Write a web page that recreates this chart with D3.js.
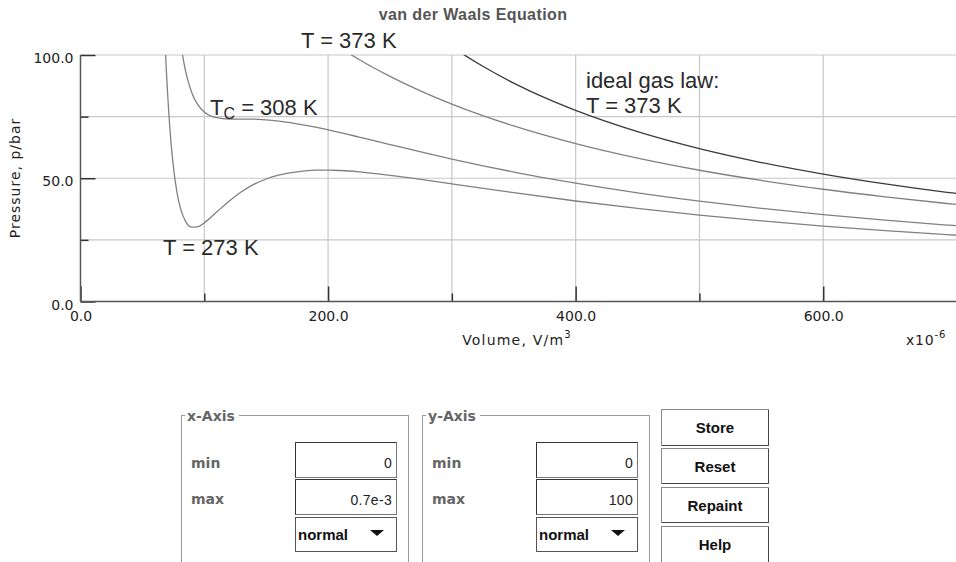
<!DOCTYPE html>
<html><head><meta charset="utf-8">
<script src="https://cdn.jsdelivr.net/npm/d3@7"></script>
<style>
body{margin:0;background:#fff;}
svg{display:block;}
</style></head>
<body>
<svg id="c" width="956" height="562"></svg>
<script>
// ---- data (volume in 1e-6 m^3, pressure in bar) ----
const volumes273 = [66,67,68,69,70,71,72,73,75,78,81,85,90,95,100,110,120,130,140,150,160,175,190,200,210,225,250,275,300,350,400,450,500,550,600,650,700,710];
const pressure273 = [137.3,122.0,108.9,97.4,87.6,79.1,71.7,65.2,54.9,44.1,37.4,32.4,30.15,30.4,31.9,36.3,40.7,44.5,47.5,49.7,51.25,52.6,53.26,53.26,53.14,52.6,51.2,49.56,47.76,44.14,40.77,37.74,35.07,32.71,30.6,28.76,27.1,26.8];
const volumesTc = [78,81,83,85,88,90,92,95,100,105,110,120,130,140,150,160,175,190,200,210,225,250,275,300,350,400,450,500,550,600,650,700,710];
const pressureTc = [117.1,104.6,98.3,93.3,87.57,84.6,82.26,79.7,76.9,75.3,74.6,74.04,74.0,73.98,73.7,73.2,72.1,70.75,69.65,68.55,66.72,63.67,60.66,57.78,52.53,47.98,44.07,40.71,37.79,35.24,33.0,31.02,30.65];
const volumes373 = [200,210,225,250,275,300,350,400,450,500,550,600,650,700,710];
const pressure373 = [106.1,102.83,98.18,91.33,85.35,80.07,71.2,64.03,58.15,53.25,49.1,45.53,42.45,39.75,39.25];
const volumesIdeal = [300,310,325,350,375,400,450,500,550,600,650,700,710];
const pressureIdeal = [103.37,100.04,95.42,88.60,82.70,77.53,68.91,62.02,56.38,51.69,47.71,44.30,43.68];

const xMajorTicks = [0,200,400,600];
const xMinorTicks = [100,300,500];
const yMajorTicks = [0,50,100];
const yMinorTicks = [25,75];
const xGrid = [100,200,300,400,500,600];
const yGrid = [25,50,75,100];
const xTickLabels = ["0.0","200.0","400.0","600.0"];
const yTickLabels = ["0.0","50.0","100.0"];

const title = "van der Waals Equation";
const xLabel = "Volume, V/m";
const yLabel = "Pressure, p/bar";

// ---- layout ----
const svg = d3.select("#c");
const L = 80.5, R = 947, T = 55, B = 301.5, RIGHT_EDGE = 956;
const x = d3.scaleLinear().domain([0,700]).range([L,R]);
const y = d3.scaleLinear().domain([0,100]).range([B,T]);

svg.append("rect").attr("width",956).attr("height",562).attr("fill","#fff");

// grid
const g = svg.append("g");
g.selectAll(".vg").data(xGrid).enter().append("line")
  .attr("x1",d=>x(d)).attr("x2",d=>x(d)).attr("y1",y(100)).attr("y2",y(0))
  .attr("stroke","#c8c8c8").attr("stroke-width",1.2);
g.selectAll(".hg").data(yGrid).enter().append("line")
  .attr("x1",x(0)).attr("x2",RIGHT_EDGE).attr("y1",d=>y(d)).attr("y2",d=>y(d))
  .attr("stroke","#c8c8c8").attr("stroke-width",1.2);

// clip
svg.append("clipPath").attr("id","clip").append("rect")
  .attr("x",x(0)).attr("y",y(100)).attr("width",RIGHT_EDGE-x(0)).attr("height",y(0)-y(100));

const line = d3.line().x(d=>x(d[0])).y(d=>y(d[1])).curve(d3.curveMonotoneX);
const series = [
  {v:volumes273,p:pressure273,c:"#808080"},
  {v:volumesTc,p:pressureTc,c:"#808080"},
  {v:volumes373,p:pressure373,c:"#808080"},
  {v:volumesIdeal,p:pressureIdeal,c:"#3a3a3a"}
];
const cg = svg.append("g").attr("clip-path","url(#clip)");
series.forEach(s=>{
  cg.append("path").datum(d3.zip(s.v,s.p)).attr("d",line)
    .attr("fill","none").attr("stroke",s.c).attr("stroke-width",1.3);
});

// axes (ticks inward)
const xAxis = svg.append("g").attr("transform",`translate(0,${y(0)})`)
  .call(d3.axisBottom(x).tickValues(xMajorTicks).tickSize(-15).tickPadding(9)
        .tickFormat((d,i)=>xTickLabels[i]));
const xAxisMinor = svg.append("g").attr("transform",`translate(0,${y(0)})`)
  .call(d3.axisBottom(x).tickValues(xMinorTicks).tickSize(-8).tickFormat(""));
const yAxis = svg.append("g").attr("transform",`translate(${x(0)},0)`)
  .call(d3.axisLeft(y).tickValues(yMajorTicks).tickSize(-15).tickPadding(7)
        .tickFormat((d,i)=>yTickLabels[i]));
const yAxisMinor = svg.append("g").attr("transform",`translate(${x(0)},0)`)
  .call(d3.axisLeft(y).tickValues(yMinorTicks).tickSize(-8).tickFormat(""));
[xAxis,xAxisMinor,yAxis,yAxisMinor].forEach(a=>{
  a.select(".domain").remove();
  a.selectAll(".tick line").attr("stroke","#333").attr("stroke-width",1.5);
  a.selectAll("text").attr("font-family","DejaVu Sans").attr("font-size",14).attr("fill","#222");
});
yAxis.selectAll("text").attr("dy","0.55em");
xAxis.selectAll("text").attr("dy","0.75em");
// axis lines
svg.append("line").attr("x1",x(0)).attr("x2",x(0)).attr("y1",y(100)).attr("y2",y(0))
  .attr("stroke","#555").attr("stroke-width",1.5);
svg.append("line").attr("x1",x(0)).attr("x2",RIGHT_EDGE).attr("y1",y(0)).attr("y2",y(0))
  .attr("stroke","#555").attr("stroke-width",1.5);

// title and axis labels
svg.append("text").attr("x",473).attr("y",20).attr("text-anchor","middle")
  .attr("font-family","Liberation Sans").attr("font-weight","bold").attr("font-size",16)
  .attr("letter-spacing",0.4).attr("fill","#555").text(title);
const xl = svg.append("text").attr("x",517).attr("y",345).attr("text-anchor","middle")
  .attr("font-family","DejaVu Sans").attr("font-size",14).attr("letter-spacing",1.2).attr("fill","#222");
xl.append("tspan").text(xLabel);
xl.append("tspan").attr("dy",-7).attr("font-size",10).text("3");
const xu = svg.append("text").attr("x",906).attr("y",345)
  .attr("font-family","DejaVu Sans").attr("font-size",14).attr("letter-spacing",0.8).attr("fill","#222");
xu.append("tspan").text("x10");
xu.append("tspan").attr("dy",-7).attr("font-size",10).text("-6");
svg.append("text").attr("transform","translate(20,178) rotate(-90)").attr("text-anchor","middle")
  .attr("font-family","DejaVu Sans").attr("font-size",14).attr("letter-spacing",1)
  .attr("fill","#222").text(yLabel);

// curve labels
const lab = (xx,yy,t)=>svg.append("text").attr("x",xx).attr("y",yy)
  .attr("font-family","Liberation Sans").attr("font-size",22).attr("fill","#2a2a2a").text(t);
lab(301,48,"T = 373 K");
lab(163,255,"T = 273 K");
lab(586,88,"ideal gas law:");
lab(586,113,"T = 373 K");
const tc = svg.append("text").attr("x",210).attr("y",115)
  .attr("font-family","Liberation Sans").attr("font-size",22).attr("fill","#2a2a2a");
tc.append("tspan").text("T");
tc.append("tspan").attr("dy",4).attr("font-size",16).text("C");
tc.append("tspan").attr("dy",-4).text(" = 308 K");

// ---- control panel ----
const boxes = [{x:181,label:"x-Axis",min:"0",max:"0.7e-3"},{x:422,label:"y-Axis",min:"0",max:"100"}];
boxes.forEach(bx=>{
  const gg = svg.append("g");
  gg.append("rect").attr("x",bx.x+0.5).attr("y",415.5).attr("width",227).attr("height",200)
    .attr("fill","none").attr("stroke","#999");
  gg.append("rect").attr("x",bx.x+4).attr("y",406).attr("width",54).attr("height",16).attr("fill","#fff");
  gg.append("text").attr("x",bx.x+6).attr("y",421).attr("font-family","DejaVu Sans")
    .attr("font-weight","bold").attr("font-size",14).attr("fill","#666").text(bx.label);
  gg.append("text").attr("x",bx.x+10).attr("y",468).attr("font-family","DejaVu Sans")
    .attr("font-weight","bold").attr("font-size",14).attr("fill","#666").text("min");
  gg.append("text").attr("x",bx.x+10).attr("y",504).attr("font-family","DejaVu Sans")
    .attr("font-weight","bold").attr("font-size",14).attr("fill","#666").text("max");
  const fx = bx.x+114;
  [[442,bx.min],[479,bx.max]].forEach(([fy,val])=>{
    gg.append("rect").attr("x",fx+0.5).attr("y",fy+0.5).attr("width",101).attr("height",35)
      .attr("fill","#fff").attr("stroke","#777");
    gg.append("line").attr("x1",fx+0.5).attr("x2",fx+101.5).attr("y1",fy+0.5).attr("y2",fy+0.5).attr("stroke","#333");
    gg.append("line").attr("x1",fx+0.5).attr("x2",fx+0.5).attr("y1",fy+0.5).attr("y2",fy+35.5).attr("stroke","#333");
    gg.append("text").attr("x",fx+97).attr("y",fy+26).attr("text-anchor","end")
      .attr("font-family","Liberation Sans").attr("font-size",14).attr("letter-spacing",0.3)
      .attr("fill","#222").text(val);
  });
  gg.append("rect").attr("x",fx+0.5).attr("y",517.5).attr("width",101).attr("height",34)
    .attr("fill","#fff").attr("stroke","#555");
  gg.append("text").attr("x",fx+3).attr("y",540).attr("font-family","Liberation Sans")
    .attr("font-weight","bold").attr("font-size",15).attr("fill","#111").text("normal");
  gg.append("path").attr("d",`M${fx+75},${530}L${fx+89},${530}L${fx+82},${536}Z`).attr("fill","#111");
});
const buttons = [{y:409,h:36,t:"Store"},{y:448,h:35,t:"Reset"},{y:487,h:35,t:"Repaint"},{y:526,h:40,t:"Help"}];
buttons.forEach(b=>{
  svg.append("rect").attr("x",661.5).attr("y",b.y+0.5).attr("width",107).attr("height",b.h)
    .attr("fill","#fff").attr("stroke","#888");
  svg.append("path").attr("d",`M${768.5},${b.y+1}V${b.y+b.h+0.5}H${662}`).attr("fill","none").attr("stroke","#444");
  svg.append("text").attr("x",715).attr("y",b.y+24).attr("text-anchor","middle")
    .attr("font-family","Liberation Sans").attr("font-weight","bold").attr("font-size",15)
    .attr("fill","#111").text(b.t);
});
</script>
</body></html>
